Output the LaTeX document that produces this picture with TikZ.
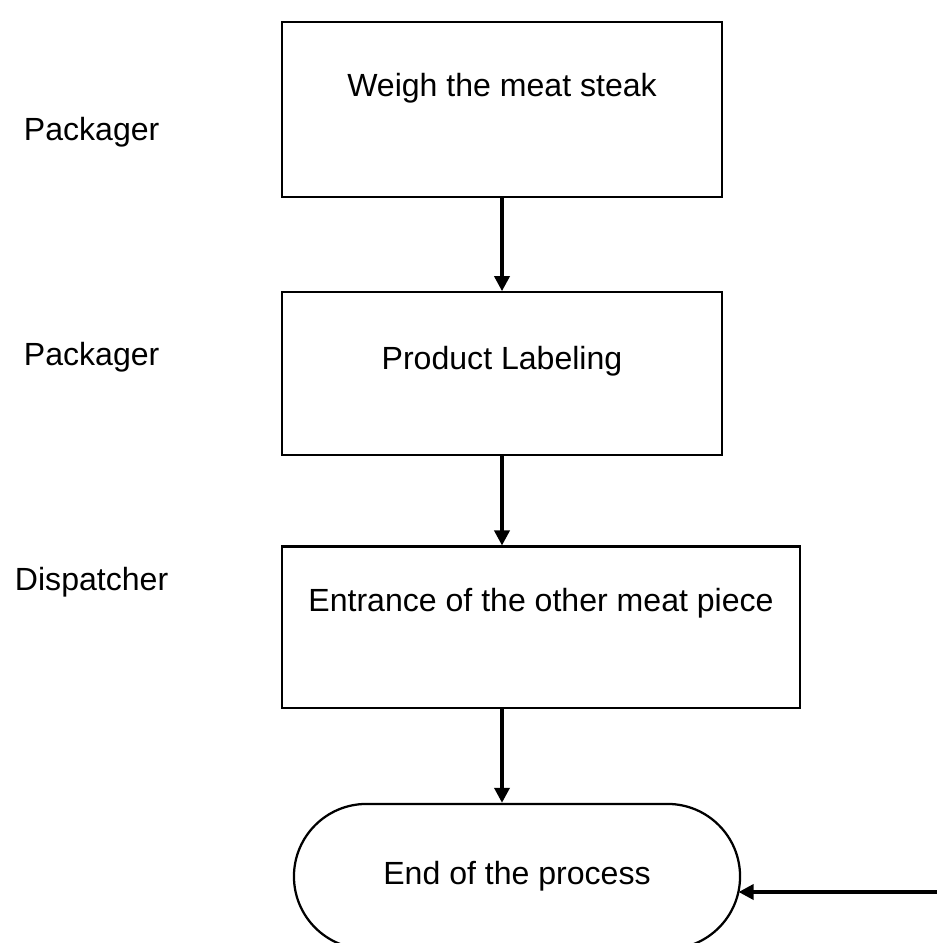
\documentclass[tikz,border=0pt]{standalone}
\usepackage{fontspec}
\setmainfont{Liberation Sans}
\usetikzlibrary{positioning,arrows.meta,shapes.misc}

\begin{document}
\begin{tikzpicture}[
  x=0.025cm, y=-0.025cm,
  node distance=2.3cm,
  stepbox/.style={draw, line width=1.6pt, minimum width=11cm, inner sep=0pt,
              font=\fontsize{22.8}{27}\selectfont, text height=0.6cm},
  endbox/.style={stepbox, rounded rectangle, minimum width=11.15cm,
              minimum height=3.625cm, text depth=0.175cm},
  role/.style={anchor=base west, font=\fontsize{22.8}{27}\selectfont},
  arr/.style={-{Triangle[length=0.375cm, width=0.375cm]}, line width=2.5pt},
]
\useasboundingbox (0,0) rectangle (937,943);

% Process steps
\node[stepbox, minimum height=4.375cm, text depth=1.275cm] (weigh) at (502,109.5) {Weigh the meat steak};
\node[stepbox, minimum height=4.075cm, text depth=0.825cm, below=2.325cm of weigh] (label) {Product Labeling};
\node[stepbox, minimum width=12.95cm, minimum height=4.025cm, text depth=1.375cm,
      below=2.225cm of label, xshift=0.975cm] (entry) {Entrance of the other meat piece};
\node[endbox, below=2.35cm of entry, xshift=-0.6cm] (finish) {End of the process};

% Roles
\node[role] (pack1) at (19,140) {Packager};
\node[role] (pack2) at (19,365) {Packager};
\node[role] (disp) at (10,590) {Dispatcher};

% Arrows
\coordinate (feed) at (937,892);
\draw[arr] (weigh) -- (label);
\draw[arr] (label.south) -- (label.south |- entry.north);
\draw[arr] (entry.south -| label.south) -- (finish.north -| label.south);
\draw[arr] (feed) -- (feed -| finish.-5.9);
\end{tikzpicture}
\end{document}
